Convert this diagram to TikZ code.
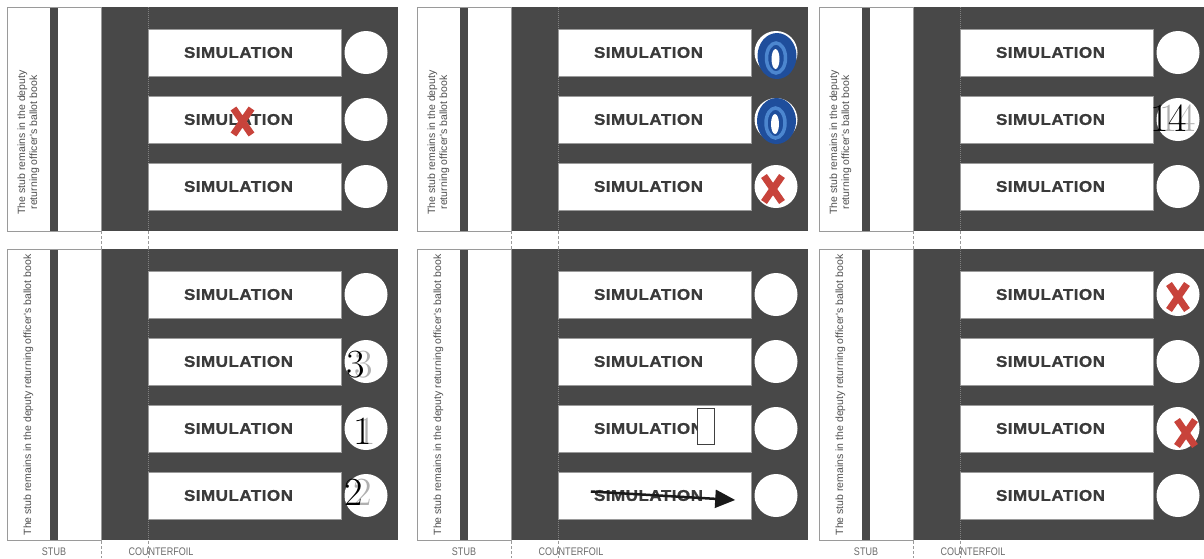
\documentclass[tikz,border=0pt]{standalone}
\usepackage{fontspec}
\usetikzlibrary{arrows.meta}
\newfontfamily\simfont[LetterSpace=3, FakeStretch=1.1, FakeBold=1.2]{Liberation Sans}
\newfontfamily\stubfont{Liberation Sans}
\newfontfamily\tagfont[FakeStretch=0.82]{Liberation Sans}
\definecolor{slate}{HTML}{484848}
\definecolor{simgray}{HTML}{3A3A3A}
\definecolor{stubgray}{HTML}{505050}
\definecolor{edgegray}{HTML}{9A9A9A}
\definecolor{taggray}{HTML}{6A6A6A}
\definecolor{markred}{HTML}{C8433B}
\definecolor{markblue}{HTML}{1F4E9C}
\definecolor{lightblue}{HTML}{4C86CF}
\definecolor{shadowgray}{HTML}{B0B0B0}
\begin{document}
\begin{tikzpicture}[x=1pt, y=-1pt,
    slot/.style={fill=white, draw=edgegray, line width=0.4pt, minimum width=193pt, minimum height=47pt, inner sep=0pt},
    simtext/.style={font=\simfont\bfseries\fontsize{15.5}{15.5}\selectfont, text=simgray, inner sep=0pt},
    dot/.style={circle, fill=white, minimum size=43pt, inner sep=0pt},
    stubtext/.style={font=\stubfont\fontsize{10.5}{12}\selectfont, text=stubgray, rotate=90, align=center, inner sep=0pt},
    tag/.style={font=\tagfont\fontsize{11}{11}\selectfont, text=taggray, inner sep=0pt},
    cutline/.style={draw=edgegray, line width=0.6pt, dash pattern=on 3pt off 2pt},
    foldline/.style={draw=gray, line width=0.5pt, dash pattern=on 1pt off 1pt},
    digit/.style={font=\fontsize{40}{40}\selectfont, inner sep=0pt},
    shadow/.style={digit, text=shadowgray},
    redcross/.pic={\draw[markred, line width=7pt] (-9,-13) -- (9,13) (9,-13) -- (-9,13);},
    blueo/.pic={\fill[markblue] (0,0) ellipse [x radius=19.5, y radius=23];
                \draw[lightblue, line width=3.5pt] (-1,2) ellipse [x radius=9.5, y radius=15];
                \fill[white] (-1.5,3) ellipse [x radius=4, y radius=10];},
  ]
  \useasboundingbox (0,0) rectangle (1204,558);
  \foreach \px/\py/\n/\p in {7/7/3/a, 417/7/3/b, 819/7/3/c, 7/249/4/d, 417/249/4/e, 819/249/4/f} {
    \pgfmathsetmacro\h{67*\n+23}
    \begin{scope}[shift={(\px,\py)}]
      \fill[white] (0,0) rectangle (94,\h);
      \fill[slate] (43,0) rectangle (51,\h);
      \fill[slate] (94,0) rectangle (391,\h);
      \draw[edgegray, line width=0.6pt] (0,0) rectangle (94,\h);
      \draw[foldline] (141,0) -- (141,\h);
      \foreach \i in {1,...,\n} {
        \node[slot] (\p s\i) at (237.5, {67*\i-21.5}) {};
        \node[simtext] (\p t\i) at (231.5, {67*\i-21.5}) {SIMULATION};
        \node[dot] (\p c\i) at (359, {67*\i-21.5}) {};
      }
    \end{scope}
  }
  \foreach \px in {7,417,819} {
    \draw[cutline] ({\px+94},231) -- ({\px+94},249);
    \draw[cutline] ({\px+141},231) -- ({\px+141},249);
    \draw[cutline] ({\px+94},541) -- ({\px+94},558);
    \draw[cutline] ({\px+141},541) -- ({\px+141},558);
  }
  \node[stubtext] (astub) at (28.5,142.5) {The stub remains in the deputy\\returning officer's ballot book};
  \node[stubtext] (bstub) at (438.5,142.5) {The stub remains in the deputy\\returning officer's ballot book};
  \node[stubtext] (cstub) at (840.5,142.5) {The stub remains in the deputy\\returning officer's ballot book};
  \node[stubtext] (dstub) at (28.5,395) {The stub remains in the deputy returning officer's ballot book};
  \node[stubtext] (estub) at (438.5,395) {The stub remains in the deputy returning officer's ballot book};
  \node[stubtext] (fstub) at (840.5,395) {The stub remains in the deputy returning officer's ballot book};
  \node[tag] (dtag) at (54,552) {STUB};
  \node[tag] (dcf) at (161,552) {COUNTERFOIL};
  \node[tag] (etag) at (464,552) {STUB};
  \node[tag] (ecf) at (571,552) {COUNTERFOIL};
  \node[tag] (ftag) at (866,552) {STUB};
  \node[tag] (fcf) at (973,552) {COUNTERFOIL};
  \pic at ([shift={(-2,2)}]as2.center) {redcross};
  \pic at ([shift={(1,3.5)}]bc1.center) {blueo};
  \pic at ([shift={(0.5,1.5)}]bc2.center) {blueo};
  \pic at ([shift={(-3,2.5)}]bc3.center) {redcross};
  \node[shadow] (c14s) at ([shift={(-0.5,-1)}]cc2.center) {14};
  \node[digit] (c14) at ([shift={(-9.5,-1)}]cc2.center) {14};
  \node[shadow] (d3s) at ([shift={(-2.5,3.5)}]dc2.center) {3};
  \node[digit] (d3) at ([shift={(-10.5,3.5)}]dc2.center) {3};
  \node[shadow] (d1s) at ([shift={(1,3)}]dc3.center) {1};
  \node[digit] (d1) at ([shift={(-3,3)}]dc3.center) {1};
  \node[shadow] (d2s) at ([shift={(-3.5,-3.5)}]dc4.center) {2};
  \node[digit] (d2) at ([shift={(-12.5,-3.5)}]dc4.center) {2};
  \node[draw=black!75, fill=white, line width=0.8pt, minimum width=17pt, minimum height=36pt, inner sep=0pt] (ebox) at ([shift={(51,-2.5)}]es3.center) {};
  \coordinate (estart) at ([shift={(-3,-4)}]et4.west);
  \coordinate (eend) at ([shift={(-16,4.5)}]es4.east);
  \draw[black!90, line width=2.5pt, -{Triangle[length=20pt, width=18pt]}] (estart) -- (eend);
  \pic at ([shift={(0,2.5)}]fc1.center) {redcross};
  \pic at ([shift={(8,4.5)}]fc3.center) {redcross};
\end{tikzpicture}
\end{document}
